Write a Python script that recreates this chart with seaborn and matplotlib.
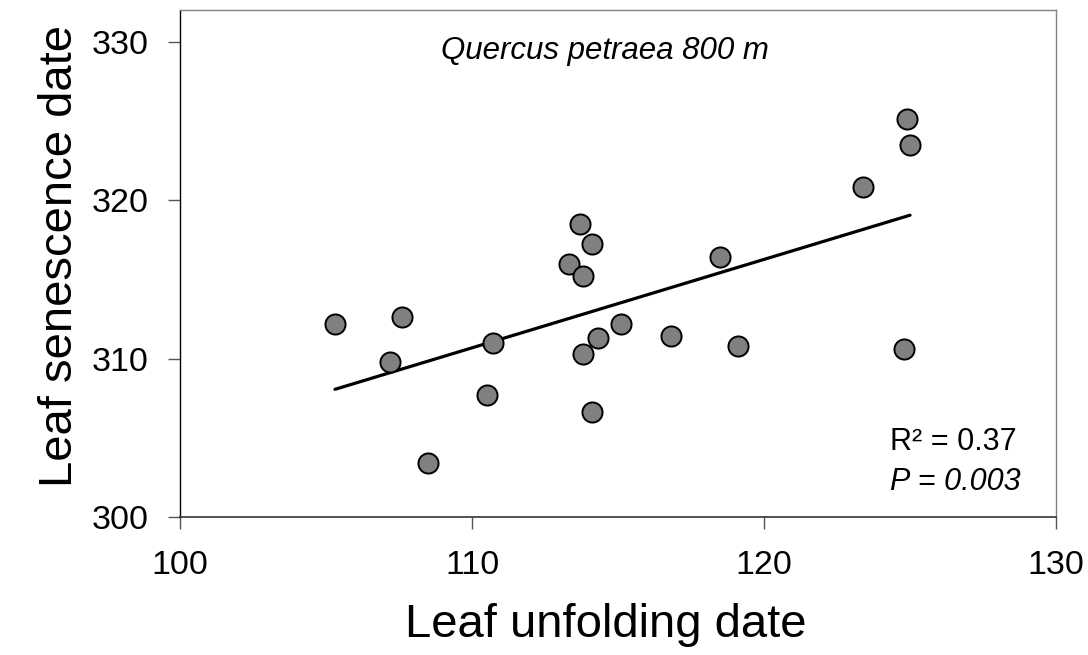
import numpy as np
import pandas as pd
import matplotlib
matplotlib.use("Agg")
import matplotlib.pyplot as plt
import seaborn as sns

# Leaf phenology data, Quercus petraea at 800 m
unfolding = [105.3, 107.6, 107.2, 108.5, 110.5, 110.7, 113.7, 114.1, 113.3, 113.8,
             114.3, 113.8, 114.1, 115.1, 116.8, 118.5, 119.1, 123.4, 124.9, 125.0, 124.8]
senescence = [312.2, 312.6, 309.8, 303.4, 307.7, 311.0, 318.5, 317.2, 316.0, 315.2,
              311.3, 310.3, 306.6, 312.2, 311.4, 316.4, 310.8, 320.8, 325.1, 323.5, 310.6]

x_ticks = [100, 110, 120, 130]
y_ticks = [300, 310, 320, 330]

df = pd.DataFrame({"unfolding": unfolding, "senescence": senescence})

sns.set_style("ticks")
plt.rcParams["font.family"] = ["Liberation Sans", "DejaVu Sans"]
plt.rcParams["text.color"] = "black"
plt.rcParams["axes.labelcolor"] = "black"
plt.rcParams["xtick.labelcolor"] = "black"
plt.rcParams["ytick.labelcolor"] = "black"

fig = plt.figure(figsize=(10.88, 6.55), dpi=100)
ax = fig.add_axes([0.1657, 0.2107, 0.8049, 0.774])

sns.regplot(data=df, x="unfolding", y="senescence", ax=ax, ci=None,
            scatter_kws=dict(s=210, facecolor="#808080", edgecolor="black",
                             linewidths=1.4, alpha=1, zorder=3),
            line_kws=dict(color="black", lw=2.3, zorder=2))

ax.set_xlim(100, 130)
ax.set_ylim(300, 332)
ax.set_xticks(x_ticks)
ax.set_yticks(y_ticks)
ax.tick_params(axis="both", direction="out", length=8.5, width=1,
               color="#555555", labelsize=24.5, labelcolor="black")
ax.tick_params(axis="y", pad=14)
ax.tick_params(axis="x", pad=15)

for side in ["top", "right"]:
    ax.spines[side].set_visible(True)
    ax.spines[side].set_color("#808080")
    ax.spines[side].set_linewidth(1)
ax.spines["left"].set_color("black")
ax.spines["bottom"].set_color("#333333")
ax.spines["left"].set_linewidth(1)
ax.spines["bottom"].set_linewidth(1.2)

ax.set_xlabel("Leaf unfolding date", fontsize=34, color="black")
ax.set_ylabel("Leaf senescence date", fontsize=34, color="black")
ax.xaxis.set_label_coords(0.486, -0.17)
ax.yaxis.set_label_coords(-0.112, 0.514)

ax.text(0.485, 0.92, "Quercus petraea 800 m", transform=ax.transAxes,
        fontsize=22.5, style="italic", ha="center", va="center", color="black")
ax.text(0.81, 0.148, "R² = 0.37", transform=ax.transAxes,
        fontsize=22, ha="left", va="center", color="black")
ax.text(0.81, 0.070, "P = 0.003", transform=ax.transAxes,
        fontsize=22, style="italic", ha="left", va="center", color="black")

fig.savefig("out.png", dpi=100, facecolor="white")
